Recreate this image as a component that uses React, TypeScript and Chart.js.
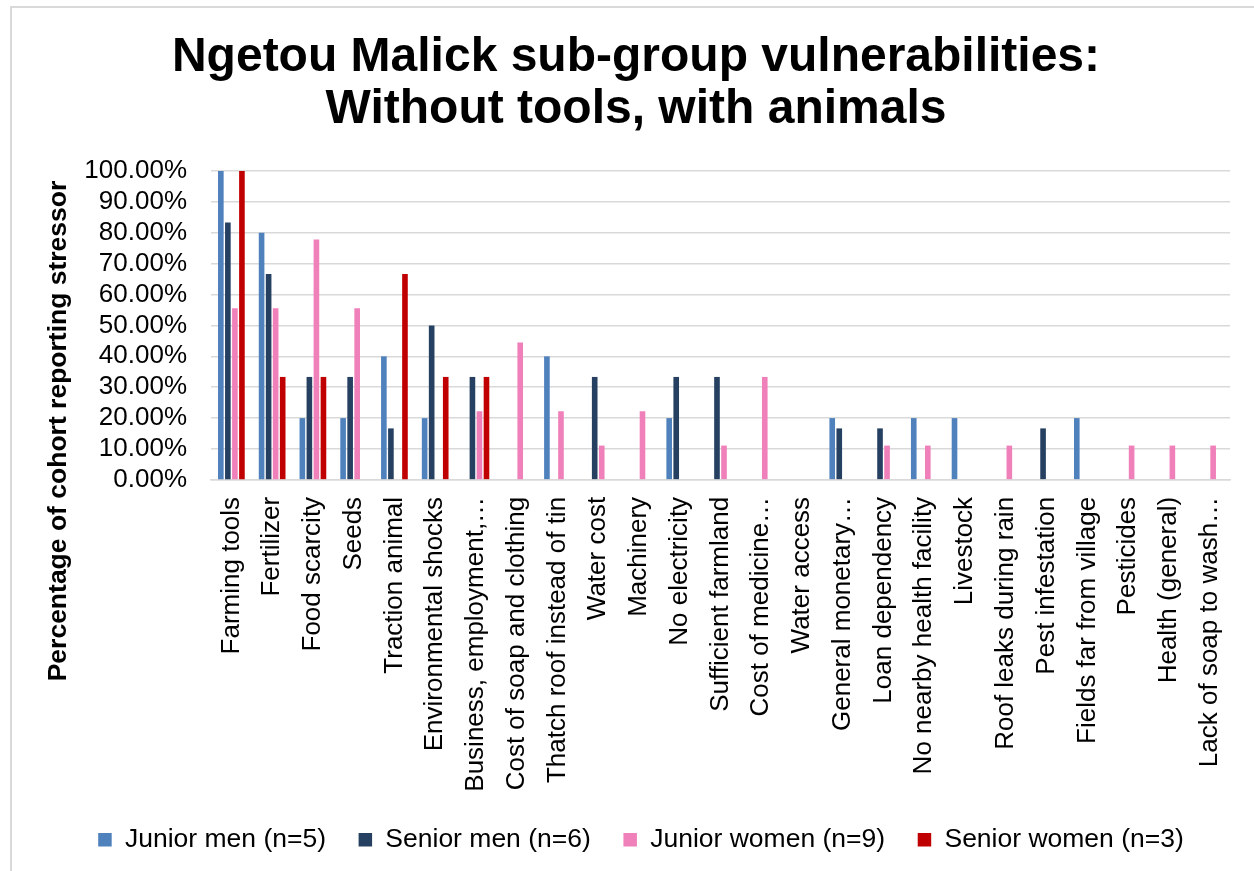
import React, { useEffect, useRef } from "react";
import { Chart, registerables } from "chart.js";

Chart.register(...registerables);

const categories: string[] = [
  "Farming tools",
  "Fertilizer",
  "Food scarcity",
  "Seeds",
  "Traction animal",
  "Environmental shocks",
  "Business, employment,…",
  "Cost of soap and clothing",
  "Thatch roof instead of tin",
  "Water cost",
  "Machinery",
  "No electricity",
  "Sufficient farmland",
  "Cost of medicine…",
  "Water access",
  "General monetary…",
  "Loan dependency",
  "No nearby health facility",
  "Livestock",
  "Roof leaks during rain",
  "Pest infestation",
  "Fields far from village",
  "Pesticides",
  "Health (general)",
  "Lack of soap to wash…",
];

const juniorMen: number[] = [100, 80, 20, 20, 40, 20, 0, 0, 40, 0, 0, 20, 0, 0, 0, 20, 0, 20, 20, 0, 0, 20, 0, 0, 0];
const seniorMen: number[] = [83.33, 66.67, 33.33, 33.33, 16.67, 50, 33.33, 0, 0, 33.33, 0, 33.33, 33.33, 0, 0, 16.67, 16.67, 0, 0, 0, 16.67, 0, 0, 0, 0];
const juniorWomen: number[] = [55.56, 55.56, 77.78, 55.56, 0, 0, 22.22, 44.44, 22.22, 11.11, 22.22, 0, 11.11, 33.33, 0, 0, 11.11, 11.11, 0, 11.11, 0, 0, 11.11, 11.11, 11.11];
const seniorWomen: number[] = [100, 33.33, 33.33, 0, 66.67, 33.33, 33.33, 0, 0, 0, 0, 0, 0, 0, 0, 0, 0, 0, 0, 0, 0, 0, 0, 0, 0];

const seriesLabels: string[] = [
  "Junior men (n=5)",
  "Senior men (n=6)",
  "Junior women (n=9)",
  "Senior women (n=3)",
];
const seriesColors: string[] = ["#4F81BD", "#254061", "#EF80BA", "#C00000"];

const yTickValues: number[] = [0, 10, 20, 30, 40, 50, 60, 70, 80, 90, 100];

const titleLines: string[] = ["Ngetou Malick sub-group vulnerabilities:", "Without tools, with animals"];
const yAxisTitle = "Percentage of cohort reporting stressor";

const FONT = "'Liberation Sans', Arial, Helvetica, sans-serif";

const layoutTweaks = {
  id: "layoutTweaks",
  afterLayout(chart: any) {
    const y = chart.scales.y;
    // Excel centres the axis title over the plot area including the category labels
    y.bottom = y.top + 2 * (422 - y.top);
    const lg = chart.legend;
    if (lg) {
      lg.left += 5;
      lg.right += 5;
    }
  },
};

export default function App() {
  const ref = useRef<HTMLCanvasElement | null>(null);

  useEffect(() => {
    if (!ref.current) return;
    const data = [juniorMen, seniorMen, juniorWomen, seniorWomen];
    const chart = new Chart(ref.current, {
      type: "bar",
      data: {
        labels: categories,
        datasets: data.map((d, i) => ({
          label: seriesLabels[i],
          data: d,
          backgroundColor: seriesColors[i],
          borderWidth: 0,
          barPercentage: 0.8,
          categoryPercentage: 0.69,
        })),
      },
      plugins: [layoutTweaks],
      options: {
        animation: false,
        responsive: false,
        events: [],
        layout: { padding: { left: 30, right: 24, top: 0, bottom: 8 } },
        plugins: {
          title: {
            display: true,
            text: titleLines,
            color: "#000",
            font: { family: FONT, size: 48, weight: "bold", lineHeight: 1.083 },
            padding: { top: 23, bottom: 35 },
          },
          legend: {
            display: true,
            position: "bottom",
            labels: {
              color: "#000",
              font: { family: FONT, size: 26.5 },
              boxWidth: 13.5,
              boxHeight: 13.5,
              padding: 32.6,
            },
          },
          tooltip: { enabled: false },
        },
        scales: {
          x: {
            grid: { display: false, drawTicks: false },
            border: { display: true, color: "#D9D9D9", width: 1.5 },
            ticks: {
              color: "#000",
              font: { family: FONT, size: 26 },
              autoSkip: false,
              minRotation: 90,
              maxRotation: 90,
              padding: 17,
            },
            afterFit: (s: any) => {
              s.height = 314;
              s.paddingLeft = 0;
              s.paddingRight = 0;
            },
          },
          y: {
            min: 0,
            max: 100,
            afterBuildTicks: (s: any) => {
              s.ticks = yTickValues.map((v) => ({ value: v }));
            },
            grid: { color: "#D9D9D9", lineWidth: 1.5, drawTicks: false },
            border: { display: false },
            ticks: {
              autoSkip: false,
              stepSize: 10,
              color: "#000",
              font: { family: FONT, size: 26 },
              padding: 24,
              callback: (v: any) => Number(v).toFixed(2) + "%",
            },
            title: {
              display: true,
              text: yAxisTitle,
              color: "#000",
              font: { family: FONT, size: 26.5, weight: "bold" },
              padding: { top: 1, bottom: 0 },
            },
            afterFit: (s: any) => {
              s.width = 169;
            },
          },
        },
      },
    });
    return () => chart.destroy();
  }, []);

  return (
    <div style={{ position: "absolute", left: 0, top: 0, width: 1254, height: 871, background: "#fff", overflow: "hidden" }}>
      <div
        style={{
          position: "absolute",
          left: 10,
          top: 6,
          width: 1260,
          height: 880,
          borderLeft: "2px solid #D9D9D9",
          borderTop: "2px solid #D9D9D9",
        }}
      />
      <canvas
        ref={ref}
        width={1242}
        height={862}
        style={{ position: "absolute", left: 12, top: 9, width: 1242, height: 862 }}
      />
    </div>
  );
}
